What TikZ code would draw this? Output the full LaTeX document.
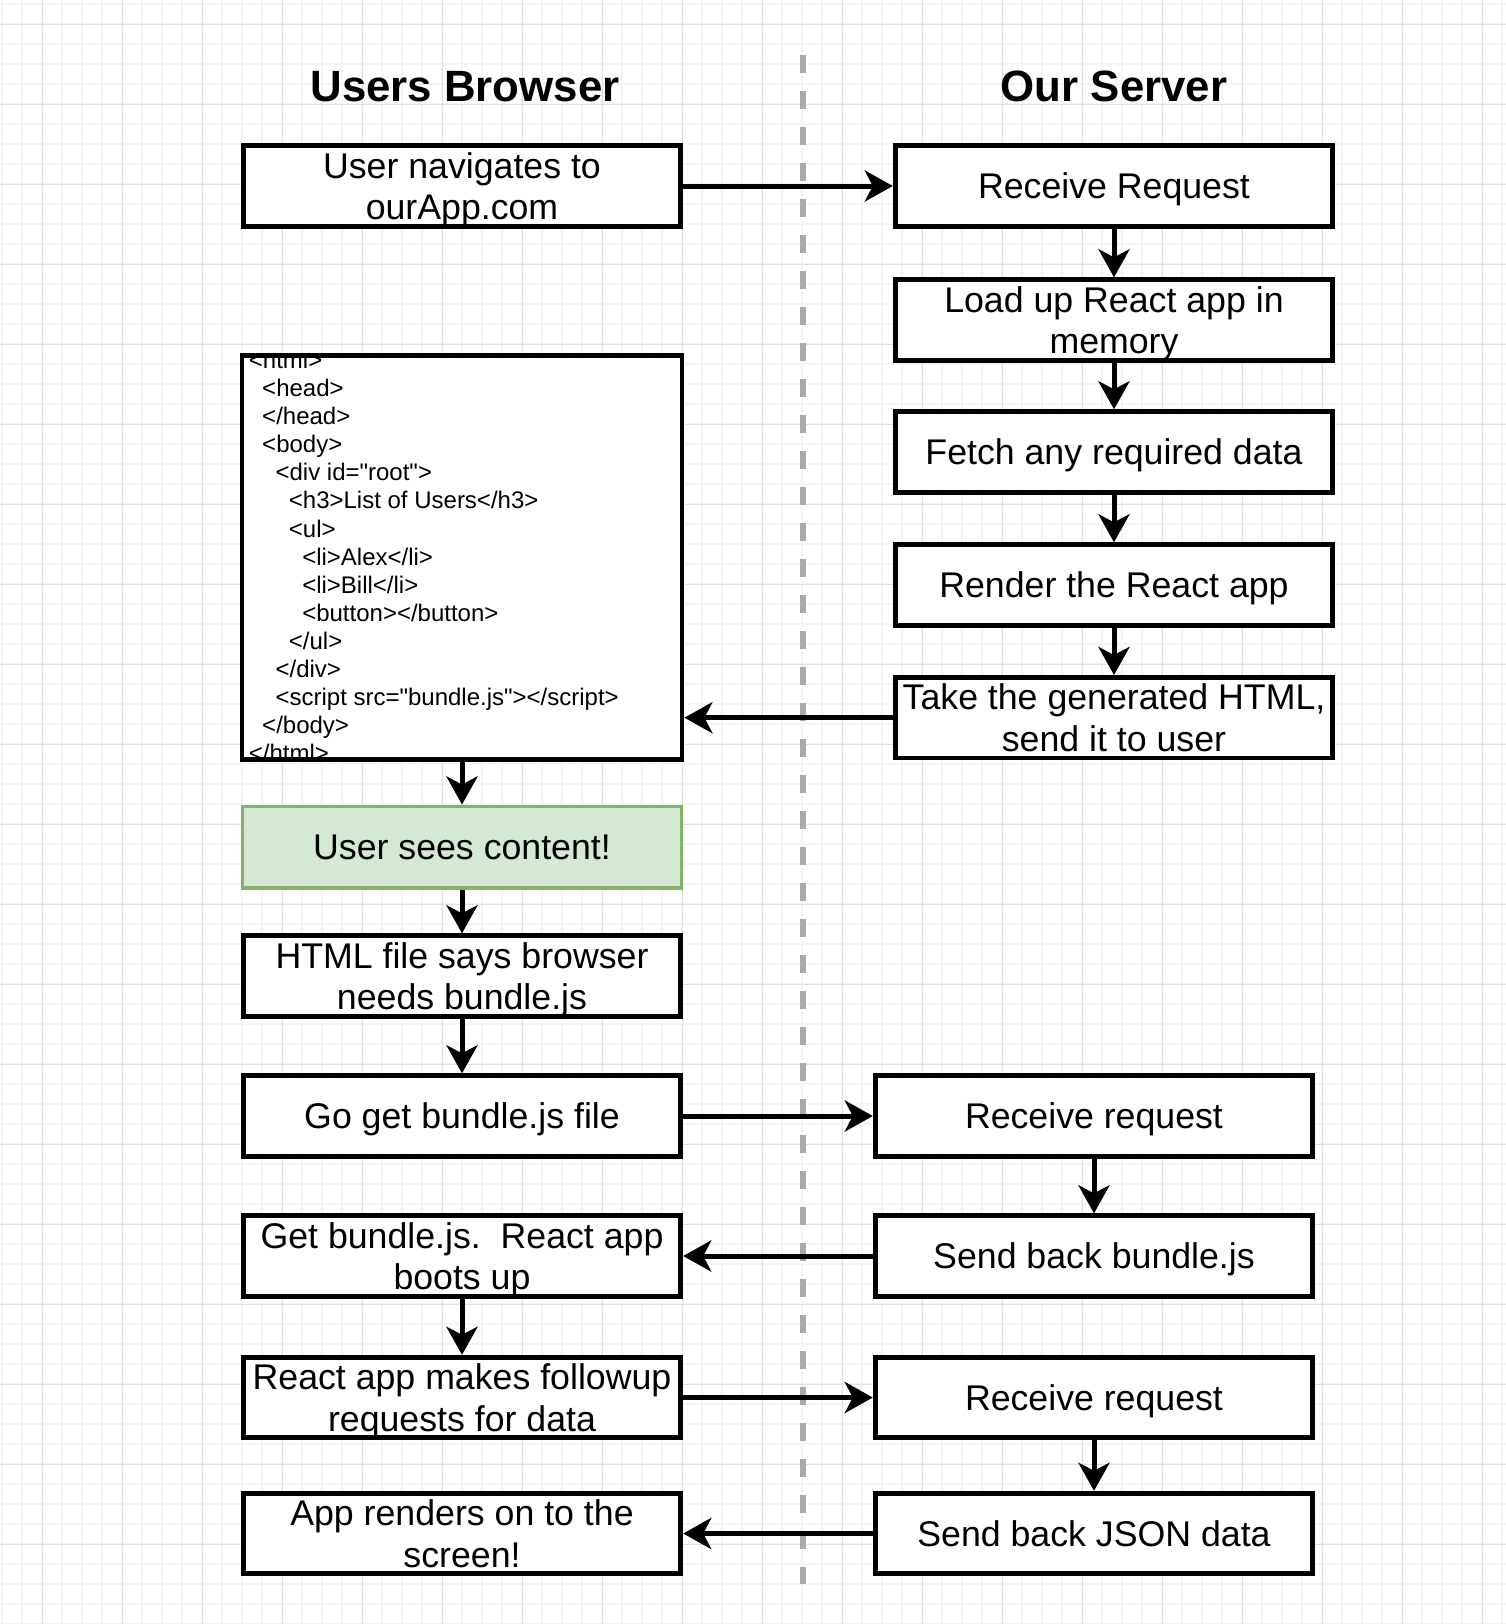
\documentclass[tikz,border=0pt]{standalone}
\usepackage{fontspec}
\setmainfont{Liberation Sans}
\usetikzlibrary{arrows.meta, positioning}

\definecolor{seenline}{HTML}{82B366}
\definecolor{seenfill}{HTML}{D5E8D4}
\definecolor{divgrey}{HTML}{AAAAAA}
\definecolor{gridlight}{HTML}{F5F5F5}
\definecolor{griddark}{HTML}{DFDFDF}

\tikzset{
  box/.style={draw, line width=2.4pt, fill=white, minimum width=218.8pt, minimum height=40.3pt,
    inner sep=0pt, align=center, text depth=-1.5pt, font=\fontsize{17.85pt}{20.85pt}\selectfont},
  seen/.style={box, draw=seenline, fill=seenfill, line width=1.7pt, minimum width=219.3pt, minimum height=40.8pt},
  markup/.style={align=left, inner sep=0pt, font=\fontsize{12pt}{14.03pt}\selectfont},
  link/.style={line width=2.5pt, -{Stealth[length=14pt, width=15.5pt, inset=4pt]}},
  heading/.style={inner sep=0pt, anchor=base, font=\fontsize{21.9pt}{26pt}\selectfont\bfseries},
  divider/.style={draw=divgrey, line width=2.6pt, dash pattern=on 9pt off 9pt},
  gridminor/.style={draw=gridlight, line width=1pt},
  gridmajor/.style={draw=griddark, line width=0.5pt},
}

\begin{document}
\begin{tikzpicture}[x=0.5pt, y=-0.5pt]
  % page and grid
  \fill[white] (0,0) rectangle (1506,1624);
  \useasboundingbox (0,0) rectangle (1506,1624);
  \foreach \gx in {2,22,...,1506} \draw[gridminor] (\gx,0) -- (\gx,1624);
  \foreach \gy in {4,24,...,1624} \draw[gridminor] (0,\gy) -- (1506,\gy);
  \foreach \gx in {42,122,...,1506} \draw[gridmajor] (\gx,0) -- (\gx,1624);
  \foreach \gy in {24,104,...,1624} \draw[gridmajor] (0,\gy) -- (1506,\gy);

  % divider and headings
  \coordinate (divtop) at (803,55);
  \coordinate (divbot) at (803,1584);
  \draw[divider] (divtop) -- (divbot);
  \node[heading] (browser) at (465,101.7) {Users Browser};
  \node[heading] (server) at (1114,101.7) {Our Server};

  % browser side
  \node[box] (user) at (462,186) {User navigates to\\ourApp.com};
  \node[box, minimum width=220pt, minimum height=202.1pt] (html) at (462,557.5) {};
  \begin{scope}
    \clip ([shift={(1.2pt,-1.2pt)}]html.north west) rectangle ([shift={(-1.2pt,1.2pt)}]html.south east);
    \node[markup, anchor=base west] (htmltext) at (248.5,761.5) {%
      <html>\\
      \hspace*{0.556em}<head>\\
      \hspace*{0.556em}</head>\\
      \hspace*{0.556em}<body>\\
      \hspace*{1.112em}<div id=\textquotedbl root\textquotedbl>\\
      \hspace*{1.668em}<h3>List of Users</h3>\\
      \hspace*{1.668em}<ul>\\
      \hspace*{2.224em}<li>Alex</li>\\
      \hspace*{2.224em}<li>Bill</li>\\
      \hspace*{2.224em}<button></button>\\
      \hspace*{1.668em}</ul>\\
      \hspace*{1.112em}</div>\\
      \hspace*{1.112em}<script src=\textquotedbl bundle.js\textquotedbl></script>\\
      \hspace*{0.556em}</body>\\
      </html>};
  \end{scope}
  \node[seen] (sees) at (462,847) {User sees content!};
  \node[box] (needs) at (462,976) {HTML file says browser\\needs bundle.js};
  \node[box] (getjs) at (462,1116) {Go get bundle.js file};
  \node[box] (boots) at (462,1256) {Get bundle.js.\ \ React app\\boots up};
  \node[box] (followup) at (462,1397.5) {React app makes followup\\requests for data};
  \node[box] (renders) at (462,1533.5) {App renders on to the\\screen!};

  % server side
  \node[box] (receive) at (1114,186) {Receive Request};
  \node[box] (load) at (1114,320) {Load up React app in\\memory};
  \node[box] (fetch) at (1114,452) {Fetch any required data};
  \node[box] (render) at (1114,585) {Render the React app};
  \node[box] (send) at (1114,717.7) {Take the generated HTML,\\send it to user};
  \node[box] (recvjs) at (1094,1116) {Receive request};
  \node[box] (sendjs) at (1094,1256) {Send back bundle.js};
  \node[box] (recvdata) at (1094,1397.5) {Receive request};
  \node[box] (senddata) at (1094,1533.5) {Send back JSON data};

  % connectors
  \draw[link] (user) -- (receive);
  \draw[link] (receive) -- (load);
  \draw[link] (load) -- (fetch);
  \draw[link] (fetch) -- (render);
  \draw[link] (render) -- (send);
  \draw[link] (send.west) -- (send.west -| html.east);
  \draw[link] (html) -- (sees);
  \draw[link] (sees) -- (needs);
  \draw[link] (needs) -- (getjs);
  \draw[link] (getjs) -- (recvjs);
  \draw[link] (recvjs) -- (sendjs);
  \draw[link] (sendjs) -- (boots);
  \draw[link] (boots) -- (followup);
  \draw[link] (followup) -- (recvdata);
  \draw[link] (recvdata) -- (senddata);
  \draw[link] (senddata) -- (renders);
\end{tikzpicture}
\end{document}
